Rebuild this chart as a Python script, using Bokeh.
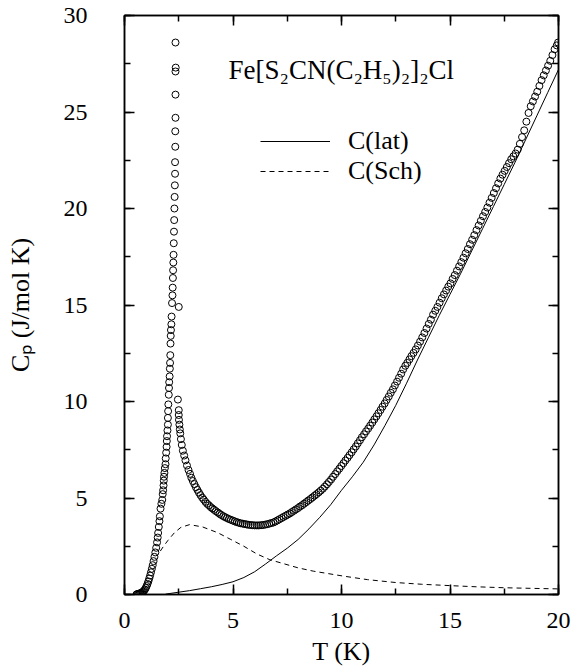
from bokeh.plotting import figure
from bokeh.models import (LinearAxis, Range1d, Label, Legend, LegendItem,
                          SingleIntervalTicker)
from bokeh.embed import file_html
from bokeh.resources import INLINE

# ---------------- data ----------------
# measured Cp, rising branch up to the lambda peak
T_rise = [0.55, 0.58, 0.62, 0.66, 0.70, 0.74, 0.78, 0.82, 0.86, 0.90, 0.94, 0.98,
          1.02, 1.06, 1.10, 1.14, 1.18, 1.22, 1.26, 1.30, 1.34, 1.38, 1.42, 1.46,
          1.50, 1.53, 1.55, 1.58, 1.61, 1.63, 1.66, 1.70, 1.74, 1.76, 1.78, 1.80,
          1.81, 1.82, 1.84, 1.86, 1.89, 1.90, 1.92, 1.94, 1.95, 1.96, 1.98, 2.00,
          2.00, 2.01, 2.02, 2.04, 2.05, 2.06, 2.08, 2.09, 2.10, 2.11, 2.12, 2.13,
          2.14, 2.16, 2.17, 2.19, 2.21, 2.22, 2.23, 2.24, 2.25, 2.26, 2.27, 2.28,
          2.29, 2.30, 2.31, 2.32, 2.33, 2.33, 2.34, 2.34, 2.35, 2.35, 2.35, 2.36,
          2.35]
C_rise = [0.00, 0.02, 0.03, 0.04, 0.05, 0.07, 0.09, 0.12, 0.15, 0.20, 0.26, 0.34,
          0.44, 0.55, 0.68, 0.83, 0.98, 1.15, 1.33, 1.52, 1.73, 1.95, 2.18, 2.42,
          2.70, 2.95, 3.19, 3.50, 3.80, 4.05, 4.45, 4.70, 4.90, 5.20, 5.40, 5.65,
          5.90, 6.10, 6.30, 6.55, 6.75, 7.05, 7.35, 7.65, 7.95, 8.20, 8.50, 8.80,
          9.15, 9.50, 9.85, 10.35, 10.70, 11.00, 11.30, 11.70, 12.00, 12.40, 13.00, 13.40,
          13.70, 14.00, 14.40, 15.10, 15.50, 15.90, 16.40, 16.80, 17.20, 17.60, 18.20, 18.80,
          19.40, 20.00, 20.60, 21.20, 21.80, 22.40, 23.20, 24.00, 24.70, 25.90, 27.10, 27.30,
          28.60]

# measured Cp, branch above the peak
T_up = [2.46, 2.50, 2.50, 2.50, 2.51, 2.53, 2.55, 2.57, 2.60, 2.64, 2.69, 2.75,
        2.81, 2.88, 2.95, 3.02, 3.08, 3.15, 3.22, 3.29, 3.36, 3.43, 3.50, 3.58,
        3.65, 3.73, 3.81, 3.89, 3.97, 4.05, 4.13, 4.21, 4.30, 4.38, 4.46, 4.55,
        4.63, 4.72, 4.81, 4.90, 4.99, 5.08, 5.17, 5.26, 5.35, 5.45, 5.54, 5.63,
        5.72, 5.82, 5.91, 6.00, 6.10, 6.19, 6.29, 6.38, 6.48, 6.57, 6.67, 6.76,
        6.86, 6.95, 7.05, 7.14, 7.24, 7.33, 7.43, 7.52, 7.62, 7.71, 7.81, 7.90,
        8.00, 8.09, 8.19, 8.28, 8.38, 8.47, 8.57, 8.66, 8.76, 8.85, 8.95, 9.04,
        9.14, 9.23, 9.33, 9.42, 9.52, 9.61, 9.71, 9.80, 9.90, 9.99, 10.09, 10.18,
        10.28, 10.37, 10.47, 10.56, 10.66, 10.75, 10.85, 10.94, 11.04, 11.13, 11.23, 11.32,
        11.42, 11.51, 11.61, 11.70, 11.80, 11.89, 11.99, 12.08, 12.18, 12.27, 12.37, 12.46,
        12.56, 12.65, 12.75, 12.84, 12.94, 13.03, 13.13, 13.22, 13.32, 13.42, 13.52, 13.62,
        13.72, 13.82, 13.92, 14.02, 14.12, 14.22, 14.32, 14.42, 14.52, 14.62, 14.72, 14.82,
        14.92, 15.02, 15.12, 15.22, 15.32, 15.42, 15.52, 15.62, 15.72, 15.82, 15.92, 16.02,
        16.12, 16.22, 16.32, 16.42, 16.52, 16.62, 16.72, 16.82, 16.92, 17.02, 17.12, 17.22,
        17.32, 17.42, 17.52, 17.62, 17.72, 17.82, 17.92, 18.02, 18.12, 18.22, 18.32, 18.42,
        18.52, 18.62, 18.72, 18.82, 18.92, 19.02, 19.12, 19.22, 19.32, 19.42, 19.52, 19.62,
        19.72, 19.82, 19.92, 19.98]
C_up = [10.10, 14.90, 9.55, 9.30, 9.05, 8.80, 8.55, 8.35, 8.05, 7.75, 7.45, 7.20,
        6.95, 6.68, 6.45, 6.25, 6.05, 5.88, 5.72, 5.56, 5.42, 5.28, 5.15, 5.02,
        4.92, 4.80, 4.70, 4.62, 4.53, 4.46, 4.39, 4.32, 4.25, 4.18, 4.12, 4.06,
        4.01, 3.96, 3.91, 3.87, 3.83, 3.79, 3.75, 3.72, 3.69, 3.67, 3.65, 3.63,
        3.61, 3.60, 3.59, 3.58, 3.58, 3.58, 3.59, 3.60, 3.62, 3.64, 3.67, 3.70,
        3.73, 3.78, 3.84, 3.90, 3.96, 4.02, 4.08, 4.14, 4.20, 4.27, 4.34, 4.41,
        4.48, 4.56, 4.63, 4.71, 4.79, 4.87, 4.95, 5.03, 5.12, 5.20, 5.29, 5.38,
        5.48, 5.59, 5.71, 5.83, 5.96, 6.10, 6.24, 6.38, 6.52, 6.66, 6.80, 6.94,
        7.08, 7.22, 7.37, 7.52, 7.67, 7.83, 7.99, 8.15, 8.30, 8.45, 8.60, 8.75,
        8.91, 9.07, 9.23, 9.39, 9.56, 9.73, 9.90, 10.08, 10.26, 10.45, 10.63, 10.83,
        11.03, 11.23, 11.44, 11.66, 11.85, 12.00, 12.18, 12.35, 12.52, 12.70, 12.90, 13.10,
        13.32, 13.55, 13.78, 14.02, 14.24, 14.50, 14.70, 14.90, 15.12, 15.35, 15.55, 15.75,
        15.95, 16.12, 16.35, 16.55, 16.78, 17.00, 17.22, 17.45, 17.68, 17.90, 18.15, 18.38,
        18.62, 18.88, 19.12, 19.36, 19.60, 19.82, 20.05, 20.30, 20.55, 20.80, 21.05, 21.30,
        21.55, 21.75, 21.95, 22.15, 22.35, 22.55, 22.70, 22.85, 23.05, 23.35, 23.70, 24.05,
        24.50, 24.95, 25.30, 25.55, 25.80, 26.05, 26.35, 26.65, 26.90, 27.15, 27.40, 27.65,
        27.95, 28.25, 28.45, 28.60]

# lattice contribution C(lat)
T_lat = [1.9, 2.5, 3.0, 3.5, 4.0, 4.5, 5.0, 5.5, 6.0, 6.5, 7.0, 7.5, 8.0, 8.5,
         9.0, 9.5, 10.0, 10.5, 11.0, 11.5, 12.0, 12.5, 13.0, 13.5, 14.0, 14.5,
         15.0, 15.5, 16.0, 16.5, 17.0, 17.5, 18.0, 18.5, 19.0, 19.5, 20.0]
C_lat = [0.02, 0.12, 0.20, 0.30, 0.40, 0.52, 0.66, 0.88, 1.18, 1.58, 2.00, 2.40,
         2.85, 3.40, 4.00, 4.65, 5.40, 6.10, 6.85, 7.75, 8.75, 9.80, 10.95, 12.15,
         13.30, 14.45, 15.55, 16.65, 17.80, 18.95, 20.10, 21.25, 22.40, 23.60, 24.80,
         26.00, 27.20]

# Schottky contribution C(Sch)
T_sch = [1.65, 1.8, 2.0, 2.3, 2.6, 3.0, 3.6, 4.3, 4.9, 5.5, 6.1, 6.7, 7.2, 8.0,
         8.7, 10.1, 11.2, 12.5, 13.7, 15.0, 16.2, 17.5, 18.7, 20.0]
C_sch = [2.25, 2.50, 2.80, 3.20, 3.48, 3.62, 3.50, 3.20, 2.85, 2.50, 2.10, 1.80,
         1.64, 1.38, 1.21, 0.95, 0.77, 0.62, 0.53, 0.46, 0.40, 0.35, 0.32, 0.29]

x_ticks_interval = 5
y_ticks_interval = 5
compound = "Fe[S\u2082CN(C\u2082H\u2085)\u2082]\u2082Cl"
lat_label = "C(lat)"
sch_label = "C(Sch)"

FONT = "Liberation Serif"

# ---------------- figure ----------------
p = figure(width=573, height=668, x_range=Range1d(0, 20), y_range=Range1d(0, 30),
           output_backend="svg", toolbar_location=None,
           min_border_left=124, min_border_right=15, min_border_top=15,
           min_border_bottom=73, x_axis_location=None, y_axis_location=None)
p.grid.visible = False
p.outline_line_color = "black"
p.outline_line_width = 1.5
p.background_fill_color = "white"
p.border_fill_color = "white"


def style(ax, labels=True):
    ax.axis_line_width = 1.5
    ax.axis_line_color = "black"
    ax.major_tick_in = 10
    ax.major_tick_out = 0
    ax.minor_tick_in = 6
    ax.minor_tick_out = 0
    ax.major_tick_line_width = 1.5
    ax.minor_tick_line_width = 1.5
    ax.major_label_text_font = FONT
    ax.axis_label_text_font = FONT
    ax.axis_label_text_font_style = "normal"
    ax.axis_label_text_font_size = "26px"
    ax.axis_label_text_color = "black"
    if labels:
        ax.major_label_text_font_size = "24px"
        ax.major_label_text_color = "black"
    else:
        ax.major_label_text_font_size = "0px"
        ax.major_label_text_color = None
        ax.major_label_standoff = 0


xb = LinearAxis(ticker=SingleIntervalTicker(interval=x_ticks_interval, num_minor_ticks=2),
                axis_label="T (K)")
style(xb)
xb.major_label_standoff = 18
xb.axis_label_standoff = 6
p.add_layout(xb, "below")

yl = LinearAxis(ticker=SingleIntervalTicker(interval=y_ticks_interval, num_minor_ticks=2),
                axis_label="C\u209a (J/mol K)")
style(yl)
yl.major_label_standoff = 37
yl.axis_label_standoff = 26
p.add_layout(yl, "left")

xt = LinearAxis(ticker=SingleIntervalTicker(interval=x_ticks_interval, num_minor_ticks=2))
style(xt, labels=False)
p.add_layout(xt, "above")

yr = LinearAxis(ticker=SingleIntervalTicker(interval=y_ticks_interval, num_minor_ticks=2))
style(yr, labels=False)
p.add_layout(yr, "right")

# curves
r_lat = p.line(T_lat, C_lat, line_color="black", line_width=1)
r_sch = p.line(T_sch, C_sch, line_color="black", line_width=1, line_dash="5 4")

# data points
p.scatter(T_rise, C_rise, marker="circle", size=7, fill_color=None,
          line_color="black", line_width=1)
p.scatter(T_up, C_up, marker="circle", size=7, fill_color=None,
          line_color="black", line_width=1)

# compound label
p.add_layout(Label(x=104, y=525, x_units="screen", y_units="screen", text=compound,
                   text_font=FONT, text_font_size="27px", text_color="black",
                   text_baseline="alphabetic"))

legend = Legend(items=[LegendItem(label=lat_label, renderers=[r_lat]),
                       LegendItem(label=sch_label, renderers=[r_sch])],
                location=(136, 408), orientation="vertical",
                glyph_width=70, glyph_height=30, label_height=30,
                label_standoff=18, padding=0, spacing=0, margin=0,
                border_line_alpha=0, background_fill_alpha=0,
                label_text_font=FONT, label_text_font_size="26px",
                label_text_color="black")
p.add_layout(legend, "center")

open("out.html", "w").write(file_html(p, INLINE))
